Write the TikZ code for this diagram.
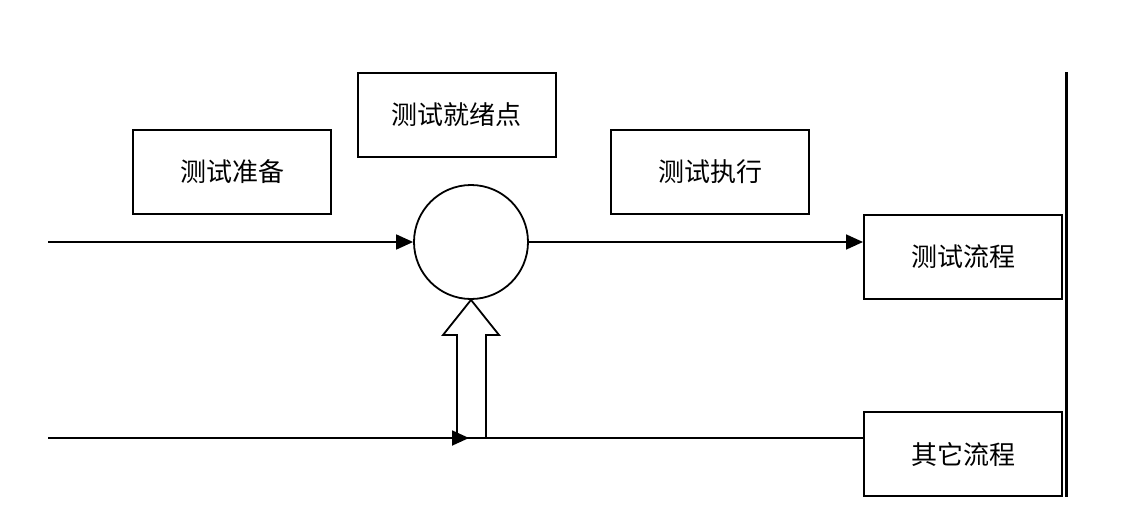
\documentclass[tikz,border=0pt]{standalone}
\usepackage{fontspec}
\newfontfamily\cjk{Noto Sans CJK SC}
\usetikzlibrary{arrows.meta}
\begin{document}
\begin{tikzpicture}[x=1pt,y=-1pt,
  box/.style={draw,line width=2pt,minimum width=198pt,minimum height=84pt,inner sep=0pt,font=\cjk\fontsize{26}{30}\selectfont},
  conn/.style={line width=1.8pt},
  tip/.style={-{Triangle[length=17pt,width=15pt]}}]
\useasboundingbox (0,0) rectangle (1134,530);
\node[box] (prep) at (232,172) {测试准备};
\node[box] (ready) at (456.5,115) {测试就绪点};
\node[box] (exec) at (710,172) {测试执行};
\node[box] (test) at (963,256.5) {测试流程};
\node[box] (other) at (963,454) {其它流程};
\node[draw,circle,line width=1.8pt,minimum size=114pt,inner sep=0pt] (c) at (471,242) {};
\coordinate (in1) at (48,242);
\coordinate (in2) at (48,438);
\coordinate (mid) at (469,438);
\draw[line width=3pt] (1066,72) coordinate (vt) -- (1066,497) coordinate (vb);
\draw[conn,tip] (in1) -- (c.west);
\draw[conn,tip] (c.east) -- (c.east -| test.west);
\draw[conn,fill=white,line join=miter] (c.south) -- (499,335) -- (486,335) -- (486,438) -- (457,438) -- (457,335) -- (443,335) -- cycle;
\draw[conn,tip] (in2) -- (mid);
\draw[conn] (mid) -- (mid -| other.west);
\end{tikzpicture}
\end{document}
